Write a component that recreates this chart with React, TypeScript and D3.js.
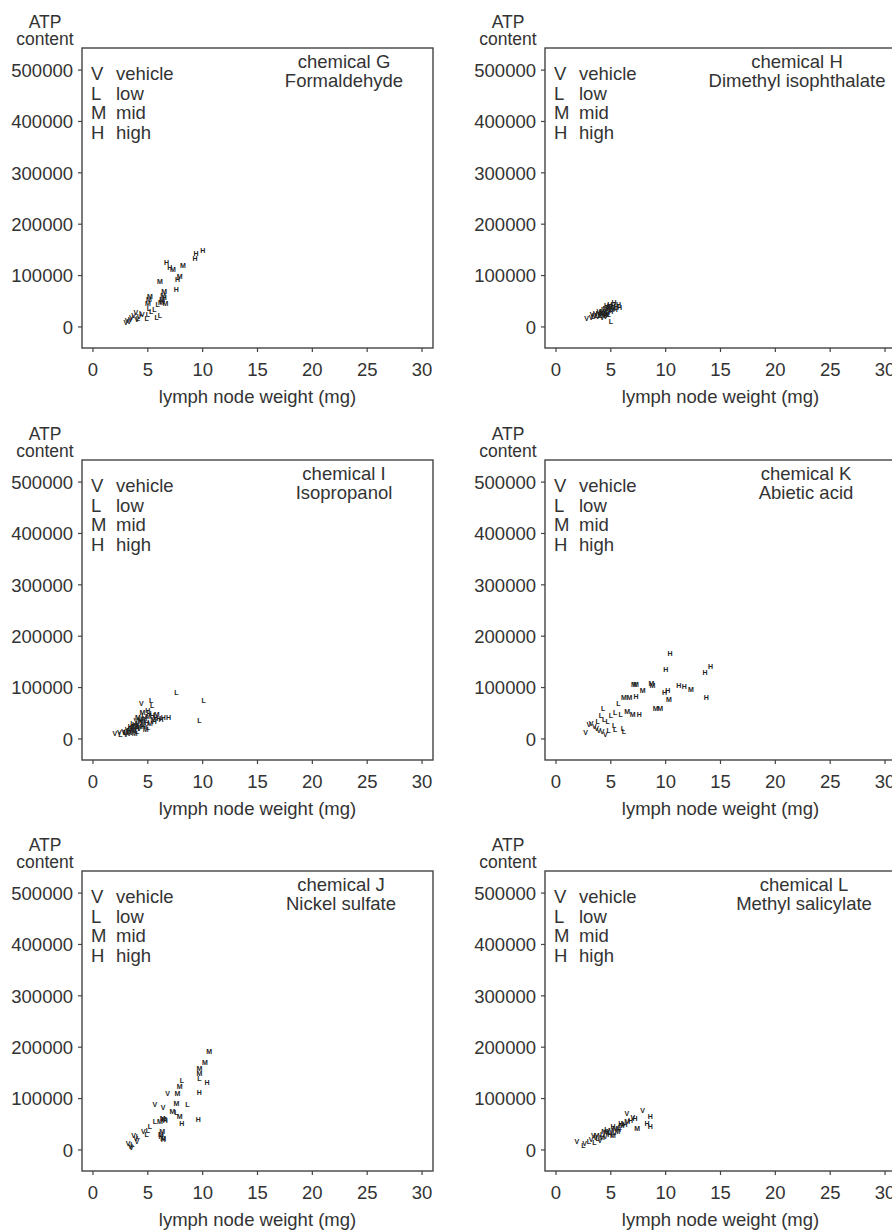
import React from "react";
import * as d3 from "d3";

// axis ticks
const xTicks = [0, 5, 10, 15, 20, 25, 30];
const yTicks = [0, 100000, 200000, 300000, 400000, 500000];

// dose groups
const doseCodes = ["V", "L", "M", "H"];
const doseNames = ["vehicle", "low", "mid", "high"];

// [lymph node weight (mg), ATP content]
// chemical G - Formaldehyde
const gVehicle = [[3.1, 12000], [3.3, 10000], [3.5, 18000], [3.7, 22000], [3.9, 28000], [4.2, 20000], [4.5, 24000], [3.4, 15000], [4.0, 14000], [3.0, 8000]];
const gLow = [[4.1, 17000], [4.9, 17000], [5.0, 24000], [5.1, 36000], [5.8, 19000], [5.6, 33000], [5.9, 43000], [6.1, 22000], [4.4, 27000], [5.3, 30000]];
const gMid = [[5.0, 46000], [5.1, 53000], [5.2, 59000], [6.2, 47000], [6.3, 53000], [6.4, 62000], [6.5, 69000], [6.1, 88000], [7.3, 112000], [8.2, 120000], [7.9, 98000], [6.6, 45000]];
const gHigh = [[6.3, 50000], [6.7, 126000], [7.0, 116000], [7.7, 93000], [7.6, 72000], [9.3, 133000], [9.4, 142000], [10.0, 148000], [6.5, 58000]];

// chemical H - Dimethyl isophthalate
const hVehicle = [[2.8, 17000], [3.2, 19000], [3.5, 22000], [3.8, 20000], [4.0, 25000], [3.6, 27000], [4.2, 18000], [4.5, 21000], [3.3, 24000], [3.9, 30000]];
const hLow = [[3.7, 23000], [4.1, 28000], [4.4, 26000], [4.6, 31000], [4.3, 33000], [3.4, 20000], [4.8, 24000], [5.0, 11000], [4.0, 22000], [4.7, 28000]];
const hMid = [[4.2, 30000], [4.5, 35000], [4.8, 32000], [5.0, 38000], [4.3, 26000], [4.6, 24000], [4.9, 40000], [5.2, 36000], [3.9, 27000], [4.4, 22000]];
const hHigh = [[4.6, 42000], [4.9, 44000], [5.3, 47000], [5.7, 43000], [5.5, 40000], [5.0, 30000], [5.8, 38000], [4.7, 36000], [5.2, 42000], [5.4, 33000]];

// chemical I - Isopropanol
const iVehicle = [[2.0, 10000], [2.4, 12000], [2.8, 14000], [3.1, 18000], [3.3, 11000], [3.6, 22000], [3.8, 16000], [4.0, 26000], [4.2, 20000], [4.4, 69000], [4.6, 30000], [3.0, 9000], [3.5, 13000], [3.9, 35000], [4.3, 38000]];
const iLow = [[2.5, 9000], [2.9, 13000], [3.2, 15000], [3.4, 20000], [3.7, 24000], [4.0, 14000], [4.1, 31000], [4.5, 28000], [4.8, 35000], [5.3, 74000], [5.4, 66000], [5.0, 22000], [7.6, 90000], [10.1, 74000], [9.7, 35000], [3.6, 30000], [4.6, 46000]];
const iMid = [[3.0, 12000], [3.3, 17000], [3.6, 19000], [3.9, 27000], [4.2, 24000], [4.4, 33000], [4.7, 40000], [5.0, 44000], [5.2, 30000], [5.5, 38000], [4.8, 18000], [3.8, 10000], [4.5, 52000], [5.8, 48000], [4.1, 41000]];
const iHigh = [[3.4, 25000], [3.8, 28000], [4.3, 36000], [4.6, 25000], [4.9, 32000], [5.1, 50000], [5.4, 45000], [5.7, 42000], [6.0, 40000], [6.4, 41000], [6.9, 41000], [4.0, 20000], [5.0, 56000], [5.6, 34000], [6.2, 38000]];

// chemical K - Abietic acid
const kVehicle = [[2.7, 12000], [3.2, 30000], [3.5, 24000], [3.9, 17000], [4.5, 8000], [3.0, 28000], [3.7, 20000], [4.2, 14000]];
const kLow = [[4.3, 59000], [4.1, 46000], [5.0, 46000], [5.4, 52000], [5.9, 48000], [4.7, 33000], [5.4, 19000], [6.1, 20000], [6.2, 14000], [4.8, 17000], [5.3, 27000], [5.7, 69000], [4.4, 37000], [3.8, 33000]];
const kMid = [[7.1, 106000], [7.3, 106000], [7.9, 95000], [8.7, 108000], [12.3, 97000], [10.3, 76000], [9.1, 59000], [9.5, 59000], [6.2, 80000], [6.7, 80000], [6.5, 53000], [7.0, 48000], [8.8, 104000]];
const kHigh = [[10.4, 167000], [10.0, 135000], [13.6, 130000], [14.1, 141000], [11.2, 105000], [11.7, 102000], [9.9, 91000], [10.2, 94000], [13.7, 80000], [7.3, 82000], [7.6, 48000]];

// chemical J - Nickel sulfate
const jVehicle = [[3.2, 13000], [3.4, 6000], [3.5, 4000], [3.7, 29000], [4.0, 16000], [5.65, 88000], [6.4, 82000], [6.8, 109000], [4.6, 36000], [3.9, 22000]];
const jLow = [[4.1, 26000], [4.9, 30000], [5.2, 45000], [5.65, 55000], [8.6, 88000], [9.7, 139000], [8.1, 135000], [7.6, 72000], [5.0, 38000], [3.6, 10000]];
const jMid = [[6.1, 55000], [6.35, 62000], [6.5, 60000], [6.2, 30000], [6.4, 23000], [7.25, 75000], [7.6, 90000], [7.7, 109000], [7.9, 123000], [7.9, 66000], [9.7, 149000], [9.7, 159000], [10.2, 170000], [10.6, 191000], [6.3, 35000]];
const jHigh = [[6.4, 20000], [6.2, 27000], [8.1, 52000], [9.6, 60000], [9.7, 111000], [10.4, 131000], [6.6, 58000]];

// chemical L - Methyl salicylate
const lVehicle = [[1.9, 16000], [2.6, 13000], [3.2, 20000], [3.6, 24000], [4.0, 18000], [6.45, 71000], [7.9, 76000], [3.4, 28000], [4.5, 26000], [7.0, 64000]];
const lLow = [[2.5, 9000], [3.0, 17000], [3.8, 22000], [4.2, 30000], [4.8, 35000], [5.3, 33000], [5.8, 44000], [6.1, 51000], [3.5, 14000], [4.6, 40000]];
const lMid = [[3.7, 29000], [4.2, 25000], [4.6, 33000], [5.0, 38000], [5.4, 42000], [5.6, 36000], [6.0, 47000], [6.5, 55000], [7.4, 42000], [5.2, 28000], [4.4, 35000]];
const lHigh = [[5.2, 45000], [5.9, 52000], [6.8, 58000], [7.2, 62000], [8.3, 52000], [8.6, 45000], [8.6, 66000], [4.9, 30000], [5.7, 40000], [6.3, 49000]];

const panels = [
  { code: "G", name: "Formaldehyde", col: 0, row: 0, labelX: 262, groups: [gVehicle, gLow, gMid, gHigh] },
  { code: "H", name: "Dimethyl isophthalate", col: 1, row: 0, labelX: 252, groups: [hVehicle, hLow, hMid, hHigh] },
  { code: "I", name: "Isopropanol", col: 0, row: 1, labelX: 262, groups: [iVehicle, iLow, iMid, iHigh] },
  { code: "K", name: "Abietic acid", col: 1, row: 1, labelX: 261, groups: [kVehicle, kLow, kMid, kHigh] },
  { code: "J", name: "Nickel sulfate", col: 0, row: 2, labelX: 259, groups: [jVehicle, jLow, jMid, jHigh] },
  { code: "L", name: "Methyl salicylate", col: 1, row: 2, labelX: 259, groups: [lVehicle, lLow, lMid, lHigh] },
];

const colLeft = [82, 545];
const rowTop = [48, 460, 871];
const plotW = 351;
const plotH = 300;
const ink = "#333";
const font = "'Liberation Sans', Arial, Helvetica, sans-serif";

function Panel({ panel }) {
  const left = colLeft[panel.col];
  const top = rowTop[panel.row];
  const x = d3.scaleLinear().domain([-1, 31]).range([0, plotW]);
  const y = d3.scaleLinear().domain([-41000, 543000]).range([plotH, 0]);

  return (
    <g transform={`translate(${left},${top})`} fontFamily={font} fill={ink}>
      <rect x={0} y={0} width={plotW} height={plotH} fill="none" stroke="#444" strokeWidth={1.4} />

      {/* y axis */}
      {yTicks.map((t) => (
        <g key={t} transform={`translate(0,${y(t)})`}>
          <line x1={-4} x2={0} stroke="#444" strokeWidth={1.2} />
          <text x={-9} dy="0.36em" textAnchor="end" fontSize={18.5}>
            {t}
          </text>
        </g>
      ))}
      <text x={-37} y={-20} textAnchor="middle" fontSize={17.5}>ATP</text>
      <text x={-37} y={-3} textAnchor="middle" fontSize={17.5}>content</text>

      {/* x axis */}
      {xTicks.map((t) => (
        <g key={t} transform={`translate(${x(t)},${plotH})`}>
          <line y1={0} y2={4} stroke="#444" strokeWidth={1.2} />
          <text y={28} textAnchor="middle" fontSize={18.5}>
            {t}
          </text>
        </g>
      ))}
      <text x={plotW / 2} y={plotH + 55} textAnchor="middle" fontSize={18.5}>
        lymph node weight (mg)
      </text>

      {/* legend */}
      {doseCodes.map((c, i) => (
        <g key={c} fontSize={18.5}>
          <text x={9} y={32 + i * 19.5}>{c}</text>
          <text x={34} y={32 + i * 19.5}>{doseNames[i]}</text>
        </g>
      ))}
      <text x={panel.labelX} y={20} textAnchor="middle" fontSize={18.5}>chemical {panel.code}</text>
      <text x={panel.labelX} y={39} textAnchor="middle" fontSize={18.5}>{panel.name}</text>

      {/* points drawn as dose letters */}
      {panel.groups.map((pts, gi) =>
        pts.map((d, i) => (
          <text
            key={`${gi}-${i}`}
            x={x(d[0])}
            y={y(d[1])}
            textAnchor="middle"
            dominantBaseline="central"
            fontSize={7}
            fontWeight="bold"
            fill="#222"
          >
            {doseCodes[gi]}
          </text>
        ))
      )}
    </g>
  );
}

export default function App() {
  return (
    <svg
      width={892}
      height={1231}
      style={{ position: "absolute", left: 0, top: 0, background: "#fff" }}
    >
      {panels.map((p) => (
        <Panel key={p.code} panel={p} />
      ))}
    </svg>
  );
}
